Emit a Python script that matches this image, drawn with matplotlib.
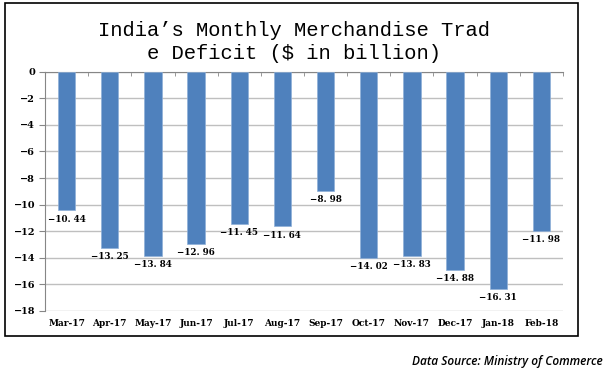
import matplotlib.pyplot as plt
import matplotlib.patches as mpatches
import numpy as np

#--- データ ---#
months = ['Mar-17', 'Apr-17', 'May-17', 'Jun-17', 'Jul-17', 'Aug-17',
          'Sep-17', 'Oct-17', 'Nov-17', 'Dec-17', 'Jan-18', 'Feb-18']
deficit = [-10.44, -13.25, -13.84, -12.96, -11.45, -11.64,
           -8.98, -14.02, -13.83, -14.88, -16.31, -11.98]

W, H = 607, 373
fig = plt.figure(figsize=(W / 100, H / 100), dpi=100)

# 外枠
fig.patches.append(mpatches.Rectangle((5 / W, 1 - 336 / H), 573 / W, 333 / H,
                                      transform=fig.transFigure, fill=False,
                                      edgecolor='black', linewidth=1.2))

ax = fig.add_axes([45 / W, 1 - 311 / H, 518 / W, 239.3 / H])
x = np.arange(len(months))
ax.bar(x, deficit, width=0.4, color='#4F81BD', edgecolor='#8FB0D8', linewidth=0.5, zorder=3)

# 値ラベル
for i, v in enumerate(deficit):
    ax.annotate(f'{v:.2f}'.replace('-', '\u2212').replace('.', '. '), (x[i], v),
                xytext=(0, -3), textcoords='offset points', ha='center', va='top',
                fontsize=6.3, fontweight='bold', family='DejaVu Serif')

ax.set_xlim(-0.5, len(months) - 0.5)
ax.set_ylim(-18, 0)
ax.set_yticks(np.arange(-18, 1, 2))
ax.set_yticklabels([('\u2212' + str(abs(t))) if t < 0 else '0' for t in range(-18, 1, 2)],
                   fontsize=7, fontweight='bold', family='DejaVu Serif')
ax.grid(axis='y', color='#BFBFBF', linewidth=1, zorder=0)

ax.set_xticks(x)
ax.set_xticklabels(months, fontsize=6.5, fontweight='bold', family='DejaVu Serif')
ax.tick_params(axis='x', length=0, pad=6)
ax.tick_params(axis='y', length=4, color='#868686', pad=3)

# 0線の目盛り (カテゴリ境界)
ax.set_xticks(np.arange(-0.5, len(months), 1), minor=True)
ax.tick_params(axis='x', which='minor', top=True, bottom=False, direction='in',
               length=3, color='#868686')

for s in ['right', 'bottom']:
    ax.spines[s].set_visible(False)
ax.spines['left'].set_color('#868686')
ax.spines['top'].set_color('#868686')

fig.text(294 / W, 1 - 42 / H, "India\u2019s Monthly Merchandise Trad\ne Deficit ($ in billion)",
         ha='center', va='center', fontsize=14.8, family='Liberation Mono', linespacing=1.25)

fig.text(603 / W, 1 - 362 / H, 'Data Source: Ministry of Commerce', ha='right', va='center',
         fontsize=8.6, style='italic', fontweight='semibold', family='Open Sans')

fig.savefig('out.png', dpi=100)
